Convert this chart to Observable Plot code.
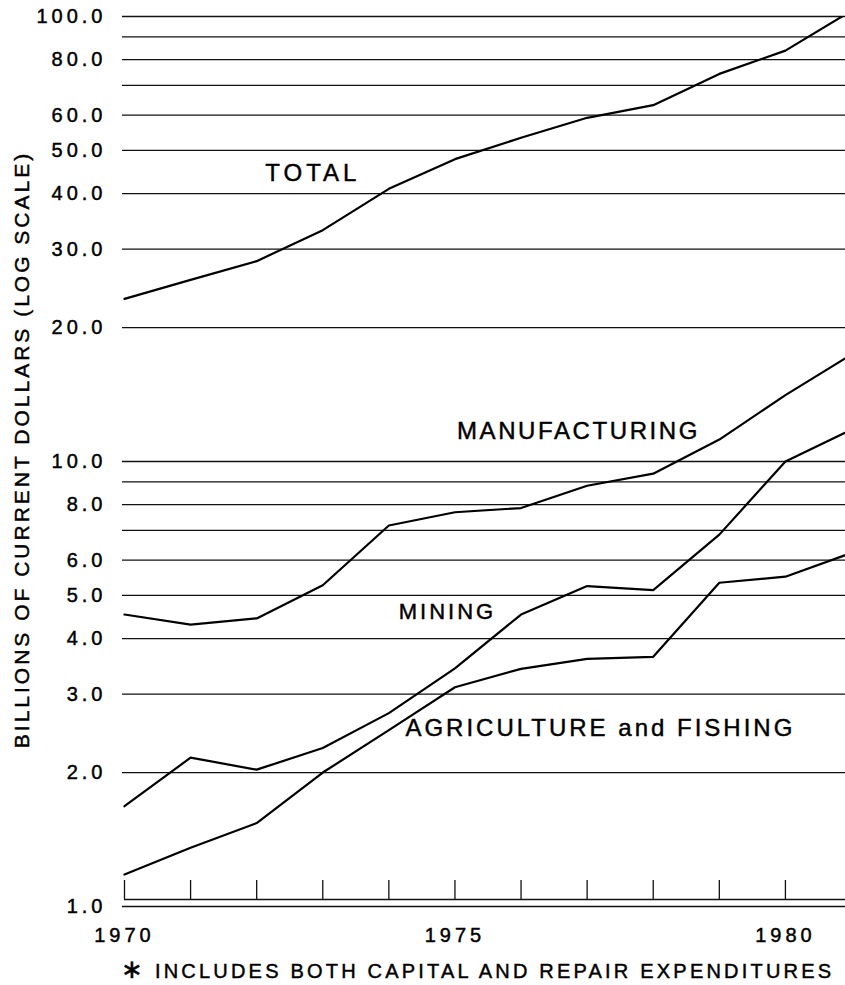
<!DOCTYPE html>
<html>
<head>
<meta charset="utf-8">
<script src="https://cdn.jsdelivr.net/npm/d3@7"></script>
<script src="https://cdn.jsdelivr.net/npm/@observablehq/plot@0.6"></script>
<style>
  html, body { margin: 0; padding: 0; background: #fff; overflow: hidden; }
  #wrap { position: relative; width: 845px; height: 985px; }
  #chart svg { display: block; }
  #chart svg text { letter-spacing: 3px; stroke: #000; stroke-width: 0.45px; }
  #chart svg g[aria-label="y-axis tick label"] text,
  #chart svg g[aria-label="x-axis tick label"] text { letter-spacing: 4px; }
  #caption {
    position: absolute; left: 121px; top: 959px;
    font: 20px "Liberation Sans", Arial, sans-serif; line-height: 20px;
    letter-spacing: 3.2px; color: #000; white-space: nowrap;
    -webkit-text-stroke: 0.45px #000;
  }
  #caption .ast { font-size: 26px; }
</style>
</head>
<body>
<div id="wrap">
  <div id="chart"></div>
  <div id="caption"><span class="ast">∗</span> INCLUDES BOTH CAPITAL AND REPAIR EXPENDITURES</div>
</div>
<script>
// ---- data (billions of current dollars) ----
const years = [1970, 1971, 1972, 1973, 1974, 1975, 1976, 1977, 1978, 1979, 1980, 1981];
const total = [23.2, 25.6, 28.2, 33.1, 41.0, 47.8, 53.4, 59.2, 63.2, 74.3, 83.8, 103];
const manufacturing = [4.53, 4.30, 4.44, 5.27, 7.18, 7.69, 7.86, 8.82, 9.39, 11.2, 14.1, 17.4];
const mining = [1.68, 2.16, 2.03, 2.27, 2.72, 3.43, 4.53, 5.25, 5.14, 6.85, 10.0, 11.8];
const agriculture = [1.18, 1.355, 1.54, 2.0, 2.49, 3.11, 3.42, 3.60, 3.64, 5.34, 5.51, 6.23];

const seriesNames = ["TOTAL", "MANUFACTURING", "MINING", "AGRICULTURE and FISHING"];
const seriesValues = [total, manufacturing, mining, agriculture];

// label anchors (year, value) for series names
const labelYears = [1972.13, 1975.03, 1974.15, 1974.25];
const labelValues = [44.5, 11.7, 4.59, 2.52];

// axes
const gridValues = [1, 2, 3, 4, 5, 6, 7, 8, 9, 10, 20, 30, 40, 50, 60, 70, 80, 90, 100];
const yTickLabels = [1, 2, 3, 4, 5, 6, 8, 10, 20, 30, 40, 50, 60, 80, 100];
const xTickLabels = [1970, 1975, 1980];
const tickYears = [1970, 1971, 1972, 1973, 1974, 1975, 1976, 1977, 1978, 1979, 1980];
const yTitle = "BILLIONS OF CURRENT DOLLARS (LOG SCALE)";

// ---- build tables ----
const rows = seriesNames.flatMap((name, s) =>
  years.map((year, i) => ({series: name, year, value: seriesValues[s][i]}))
);
const labels = seriesNames.map((name, i) => ({name, year: labelYears[i], value: labelValues[i]}));

const plot = Plot.plot({
  width: 845,
  height: 950,
  marginLeft: 122,
  marginRight: 0,
  marginTop: 16,
  marginBottom: 44,
  x: {type: "linear", domain: [1970, 1981], range: [124, 851], label: null},
  y: {type: "log", domain: [1, 100], range: [906, 16], label: null},
  style: {
    fontFamily: '"Liberation Sans", Arial, sans-serif',
    fontSize: "20px",
    color: "#000",
    background: "#fff"
  },
  marks: [
    Plot.ruleY(gridValues, {stroke: "#111", strokeWidth: 1.3}),
    Plot.ruleY([1], {dy: -7, x1: 1970, x2: 1981, stroke: "#111", strokeWidth: 1.3, clip: true}),
    Plot.tickX(tickYears, {x: d => d, insetTop: 864, insetBottom: 7, stroke: "#111", strokeWidth: 1.3}),
    Plot.line(rows, {x: "year", y: "value", z: "series", stroke: "#000", strokeWidth: 2.2, clip: true}),
    Plot.text(labels.filter(d => d.name !== "MINING"), {x: "year", y: "value", text: "name", textAnchor: "start", fontSize: 24, fill: "#000"}),
    Plot.text(labels.filter(d => d.name === "MINING"), {x: "year", y: "value", text: "name", textAnchor: "start", fontSize: 22, fill: "#000"}),
    Plot.axisY(yTickLabels, {tickSize: 0, tickPadding: 16, tickFormat: d => d.toFixed(1), fontSize: 20, label: null}),
    Plot.axisX(xTickLabels, {tickSize: 0, tickPadding: 21, tickFormat: d => String(d), fontSize: 20, label: null}),
    Plot.text([yTitle], {frameAnchor: "left", textAnchor: "middle", lineAnchor: "middle", rotate: -90, dx: -100, dy: -12, fontSize: 21, fill: "#000"})
  ]
});
document.getElementById("chart").appendChild(plot);
const sel = d3.select(plot).selectAll("text");
sel.filter(function () { return this.textContent === "TOTAL"; }).style("letter-spacing", "4px");
sel.filter(function () { return this.textContent === "MANUFACTURING"; }).style("letter-spacing", "2.6px");
</script>
</body>
</html>
